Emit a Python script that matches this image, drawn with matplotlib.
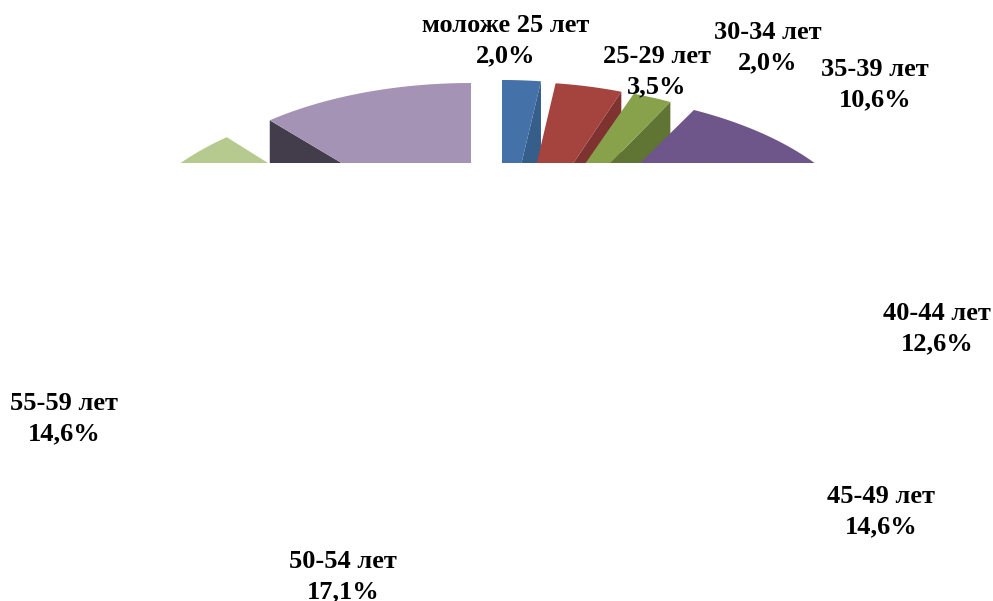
import numpy as np
import matplotlib
matplotlib.use('Agg')
import matplotlib.pyplot as plt

plt.rcParams['font.family'] = ['Liberation Serif', 'DejaVu Serif']

# shares in %, clockwise from 12 o'clock. last two labels are cut off in the source
groups = ['моложе 25 лет', '25-29 лет', '30-34 лет', '35-39 лет', '40-44 лет',
          '45-49 лет', '50-54 лет', '55-59 лет', '', '']
shares = [2.0, 3.5, 2.0, 10.6, 12.6, 14.6, 17.1, 14.6, 11.8, 11.2]

top_colors = ['#4471A8', '#A5433F', '#88A24B', '#6E568A', '#3F97AE',
              '#DB843D', '#5C8BC4', '#C45C58', '#B6CA90', '#A593B6']
side_colors = ['#365E8A', '#7F3331', '#607433', '#54416A', '#2F7485',
               '#A8652E', '#466B97', '#964644', '#8B9B6E', '#433C4A']

# exploded slice centres and radii in pixels (perspective makes them differ)
cx = [502, 517, 526, 545, 485, 485, 485, 485, 428, 471]
cy = [245, 247, 249, 257, 250, 250, 250, 250, 263, 240]
rx = [311, 308, 318, 328, 311, 311, 311, 311, 311, 311]
ry = [165, 165, 165, 165, 165, 165, 165, 165, 165, 157]
depth = 90

# where each label sits
label_x = [506, 657, 768, 875, 937, 881, 343, 64]
label_y = [40.5, 71.5, 47.5, 84.5, 328.5, 511.5, 576.5, 418.5]

W, H = 993, 601
CUT = 163  # everything below this row is blank in the picture

fig = plt.figure(figsize=(W / 100, H / 100), dpi=100)
ax_pie = fig.add_axes([0, 1 - CUT / H, 1, CUT / H])
ax_pie.set_xlim(0, W)
ax_pie.set_ylim(CUT, 0)
ax_pie.axis('off')

edges = np.radians(np.cumsum([0] + shares) * 3.6)

for i in range(len(shares)):
    a0, a1 = edges[i], edges[i + 1]
    t = np.linspace(a0, a1, 60)
    xs = cx[i] + rx[i] * np.sin(t)
    ys = cy[i] - ry[i] * np.cos(t)

    # cut face: on the right side it shows the trailing edge, on the left the leading one
    if a1 <= np.pi:
        ex, ey = xs[-1], ys[-1]
    else:
        ex, ey = xs[0], ys[0]
    ax_pie.fill([ex, cx[i], cx[i], ex], [ey, cy[i], cy[i] + depth, ey + depth],
                color=side_colors[i], lw=0, zorder=i + 1)

    ax_pie.fill(np.r_[cx[i], xs], np.r_[cy[i], ys], color=top_colors[i], lw=0, zorder=i + 1.5)

ax = fig.add_axes([0, 0, 1, 1])
ax.set_xlim(0, W)
ax.set_ylim(H, 0)
ax.axis('off')
ax.patch.set_alpha(0)

for name, val, x, y in zip(groups, shares, label_x, label_y):
    txt = name + '\n' + f'{val:.1f}'.replace('.', ',') + '%'
    ax.text(x, y, txt, ha='center', va='center', fontsize=19, fontweight='bold',
            color='black', linespacing=1.37)

fig.savefig('out.png', dpi=100)
